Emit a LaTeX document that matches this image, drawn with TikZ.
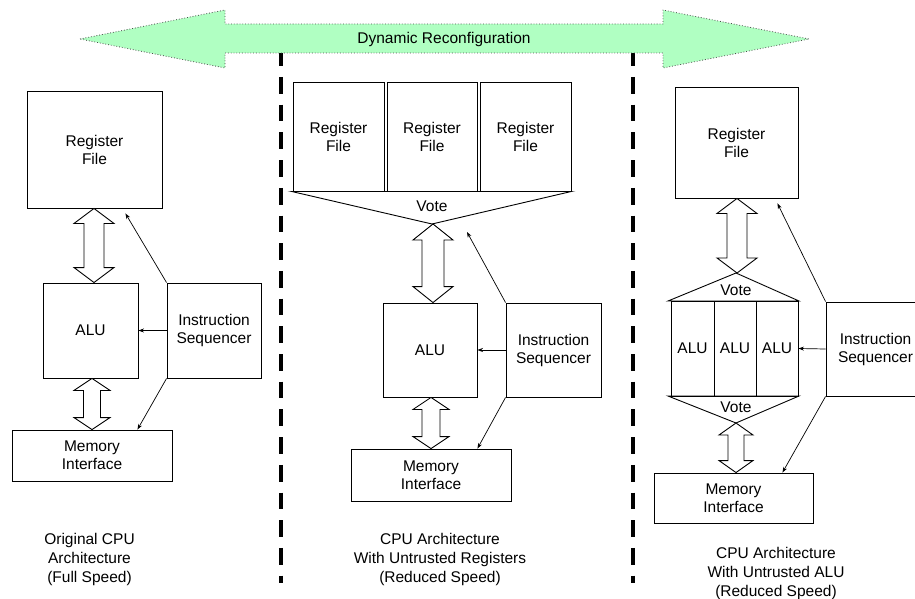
\documentclass[tikz,border=0pt]{standalone}
\usepackage{fontspec}
\setmainfont{Liberation Sans}
\usetikzlibrary{arrows.meta,calc}

\newcommand\lbl{\fontsize{15.5}{18}\selectfont}
\definecolor{mint}{RGB}{176,255,194}

% hollow double-headed bus arrow between two points (same x as the first)
% #1 upper end, #2 lower end, #3 head half-width, #4 shaft half-width, #5 head length
\newcommand\fatarrow[5]{%
  \draw[busarrow] let \p1=(#1), \p2=(#2) in
    (\x1,\y1) -- (\x1+#3pt,\y1-#5pt) -- (\x1+#4pt,\y1-#5pt) -- (\x1+#4pt,\y2+#5pt)
    -- (\x1+#3pt,\y2+#5pt) -- (\x1,\y2) -- (\x1-#3pt,\y2+#5pt) -- (\x1-#4pt,\y2+#5pt)
    -- (\x1-#4pt,\y1-#5pt) -- (\x1-#3pt,\y1-#5pt) -- cycle;}

\tikzset{
  unit/.style 2 args={draw, line width=0.9pt, inner sep=0pt, align=center, font=\lbl,
    minimum width=#1, minimum height=#2},
  busarrow/.style={draw, fill=white, line width=0.9pt, line join=miter},
  voter/.style={draw, line width=0.9pt, line join=miter},
  ctrl/.style={draw, line width=0.7pt, -{Stealth[length=5.5pt,width=4pt]}},
  divider/.style={draw, line width=3.2pt, dash pattern=on 16.7pt off 11pt},
  caption/.style={align=center, font=\fontsize{15.5}{19}\selectfont},
  banner/.style={draw=black!70, fill=mint, line width=0.8pt, dotted},
}

\begin{document}
\begin{tikzpicture}[x=1pt, y=-1pt]
\useasboundingbox (0,0) rectangle (915,599);
\clip (0,0) rectangle (915,599);

% column separators
\draw[divider] (281,49.3) -- (281,583);
\draw[divider] (633,49.3) -- (633,583);

% reconfiguration banner
\draw[banner] (80,39) -- (225,10) -- (225,24) -- (663,24) -- (663,10) -- (809,39)
  -- (663,68) -- (663,53) -- (225,53) -- (225,68) -- cycle;
\node[font=\lbl] (banner) at (444,39) {Dynamic Reconfiguration};

% ---------- original CPU ----------
\node[unit={135}{117}] (rf1) at (94.5,149.5) {Register\\File};
\node[unit={95}{95}] (alu1) at (90.5,330.5) {ALU};
\node[unit={94}{95}] (is1) at (214,330.5) {Instruction\\Sequencer};
\node[unit={160}{51}] (mem1) at (92,455.5) {Memory\\Interface};
\fatarrow{$(rf1.south)+(-0.5,0)$}{$(alu1.north)$}{20}{10}{15}
\fatarrow{$(alu1.south)+(1.5,0)$}{$(mem1.north)$}{18}{8.5}{12}
\draw[ctrl] (is1.north west) -- ($(rf1.south east)+(-37,5)$);
\draw[ctrl] (is1.west) -- (alu1.east);
\draw[ctrl] (is1.south west) -- ($(mem1.north east)+(-35,0)$);
\node[caption] (cap1) at (89.5,559) {Original CPU\\Architecture\\(Full Speed)};

% ---------- untrusted registers ----------
\node[unit={91}{109}] (rf2a) at (338.5,136.5) {Register\\File};
\node[unit={90}{109}] (rf2b) at (432,136.5) {Register\\File};
\node[unit={91}{109}] (rf2c) at (525.5,136.5) {Register\\File};
\coordinate (vote2) at (432,224);
\draw[voter] ($(rf2a.south west)+(-1,0)$) -- (rf2c.south east) -- (vote2) -- cycle;
\node[font=\lbl] (vote2lbl) at (432,206) {Vote};
\node[unit={94}{94}] (alu2) at (430,350) {ALU};
\node[unit={95}{94}] (is2) at (553.5,350) {Instruction\\Sequencer};
\node[unit={160}{52}] (mem2) at (431,475) {Memory\\Interface};
\fatarrow{$(vote2)+(1,0)$}{$(alu2.north)$}{20}{11}{16}
\fatarrow{$(alu2.south)+(1,0)$}{$(mem2.north)$}{18}{9}{12}
\draw[ctrl] (is2.north west) -- (467,232);
\draw[ctrl] (is2.west) -- (alu2.east);
\draw[ctrl] (is2.south west) -- ($(mem2.north east)+(-34,0)$);
\node[caption] (cap2) at (440,559) {CPU Architecture\\With Untrusted Registers\\(Reduced Speed)};

% ---------- untrusted ALU ----------
\node[unit={123}{111}] (rf3) at (736.5,142.5) {Register\\File};
\coordinate (vote3a) at (736,273);
\coordinate (vote3b) at (736,423);
\node[unit={43}{95}] (alu3a) at (692.5,348.5) {ALU};
\node[unit={42}{95}] (alu3b) at (735,348.5) {ALU};
\node[unit={42}{95}] (alu3c) at (777,348.5) {ALU};
\draw[voter] (668,301) -- (799,301) -- (vote3a) -- cycle;
\draw[voter] (668,396) -- (799,396) -- (vote3b) -- cycle;
\node[font=\lbl] (vote3albl) at (736,290) {Vote};
\node[font=\lbl] (vote3blbl) at (736,407) {Vote};
\node[unit={99}{94}] (is3) at (875.5,349) {Instruction\\Sequencer};
\node[unit={159}{50}] (mem3) at (733.5,498) {Memory\\Interface};
\fatarrow{$(rf3.south)+(0.5,0)$}{vote3a}{20}{10}{15}
\fatarrow{vote3b}{$(mem3.north)$}{17}{8}{12}
\draw[ctrl] (is3.north west) -- ($(rf3.south east)+(-21,5)$);
\draw[ctrl] (is3.west) -- (alu3c.east);
\draw[ctrl] (is3.south west) -- ($(mem3.north east)+(-31,0)$);
\node[caption] (cap3) at (776,573) {CPU Architecture\\With Untrusted ALU\\(Reduced Speed)};
\end{tikzpicture}
\end{document}
